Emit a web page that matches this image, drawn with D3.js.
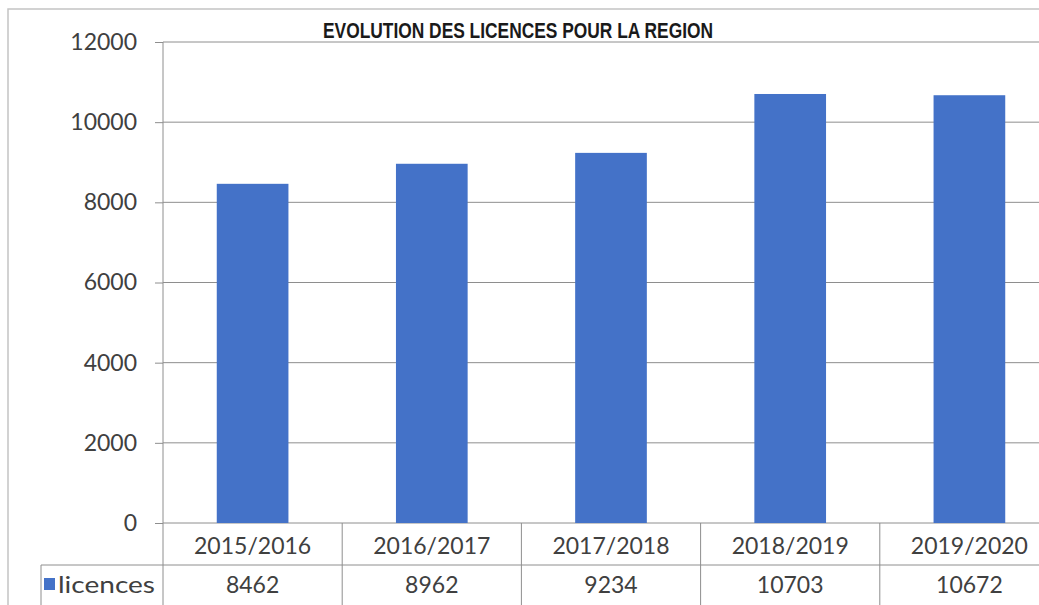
<!DOCTYPE html>
<html>
<head>
<meta charset="utf-8">
<script src="https://cdn.jsdelivr.net/npm/d3@7"></script>
<style>
  body { margin: 0; background: #fff; }
  svg text { font-family: Lato, "Open Sans", sans-serif; }
</style>
</head>
<body>
<svg id="chart"></svg>
<script>
// chart data
const categories = ["2015/2016", "2016/2017", "2017/2018", "2018/2019", "2019/2020"];
const licences = [8462, 8962, 9234, 10703, 10672];
const yTicks = [0, 2000, 4000, 6000, 8000, 10000, 12000];
const seriesName = "licences";
const title = "EVOLUTION DES LICENCES POUR LA REGION";

const width = 1039, height = 605;
const gridColor = "#8e8e8e";
const barColor = "#4472C8";

const svg = d3.select("#chart")
  .attr("width", width)
  .attr("height", height);

// plot area (extends a bit past the right edge, like the cropped original)
const plotLeft = 163, plotRight = 1059, plotTop = 42, plotBottom = 523;
const row1 = 565, row2 = 605;

const x = d3.scaleBand().domain(categories).range([plotLeft, plotRight]).padding(0);
const y = d3.scaleLinear().domain([0, 12000]).range([plotBottom, plotTop]);

// outer frame
svg.append("path")
  .attr("d", `M8,${height} V9 H${width}`)
  .attr("fill", "none")
  .attr("stroke", "#c4c4c4")
  .attr("stroke-width", 1.5);

// gridlines + ticks
const yAxis = svg.append("g")
  .attr("transform", `translate(${plotLeft},0)`)
  .call(d3.axisLeft(y).tickValues(yTicks).tickSize(8).tickPadding(18).tickFormat(d3.format("d")));
yAxis.select(".domain").remove();
yAxis.selectAll(".tick line").attr("stroke", gridColor);
yAxis.selectAll(".tick text")
  .attr("fill", "#404040")
  .attr("font-size", 23)
  .style("font-family", "Lato, sans-serif");

svg.append("g")
  .selectAll("line")
  .data(yTicks)
  .join("line")
  .attr("x1", plotLeft)
  .attr("x2", width)
  .attr("y1", d => y(d))
  .attr("y2", d => y(d))
  .attr("stroke", gridColor)
  .attr("stroke-width", 1);

// bars
const barW = x.bandwidth() * 0.4;
svg.append("g")
  .selectAll("rect")
  .data(licences)
  .join("rect")
  .attr("x", (d, i) => x(categories[i]) + (x.bandwidth() - barW) / 2)
  .attr("y", d => y(d))
  .attr("width", barW)
  .attr("height", d => y(0) - y(d))
  .attr("fill", barColor);

// axis line
svg.append("line")
  .attr("x1", plotLeft).attr("x2", plotLeft)
  .attr("y1", plotTop).attr("y2", row2)
  .attr("stroke", gridColor);

// data table lines
const table = svg.append("g").attr("stroke", gridColor).attr("stroke-width", 1);
table.append("line")
  .attr("x1", 41).attr("x2", width)
  .attr("y1", row1).attr("y2", row1);
table.append("line")
  .attr("x1", 41).attr("x2", 41)
  .attr("y1", row1).attr("y2", row2);
table.selectAll(".sep")
  .data(categories.slice(1))
  .join("line")
  .attr("class", "sep")
  .attr("x1", d => x(d)).attr("x2", d => x(d))
  .attr("y1", plotBottom).attr("y2", row2);

// category labels
svg.append("g")
  .selectAll("text")
  .data(categories)
  .join("text")
  .attr("x", d => x(d) + x.bandwidth() / 2)
  .attr("y", 554)
  .attr("text-anchor", "middle")
  .attr("font-size", 23)
  .attr("fill", "#404040")
  .text(d => d);

// values row
svg.append("g")
  .selectAll("text")
  .data(licences)
  .join("text")
  .attr("x", (d, i) => x(categories[i]) + x.bandwidth() / 2)
  .attr("y", 593)
  .attr("text-anchor", "middle")
  .attr("font-size", 23)
  .attr("fill", "#404040")
  .text(d => d);

// legend key
svg.append("rect")
  .attr("x", 44).attr("y", 578)
  .attr("width", 11).attr("height", 12)
  .attr("fill", barColor);
svg.append("text")
  .attr("x", 58).attr("y", 593)
  .attr("font-size", 24)
  .attr("textLength", 97)
  .attr("lengthAdjust", "spacingAndGlyphs")
  .attr("fill", "#404040")
  .text(seriesName);

// title
svg.append("text")
  .attr("x", 518).attr("y", 38)
  .attr("text-anchor", "middle")
  .style("font-family", "'Liberation Sans', Arial, sans-serif")
  .attr("font-weight", "bold")
  .attr("font-size", 22)
  .attr("textLength", 390)
  .attr("lengthAdjust", "spacingAndGlyphs")
  .attr("fill", "#1a1a1a")
  .text(title);
</script>
</body>
</html>
